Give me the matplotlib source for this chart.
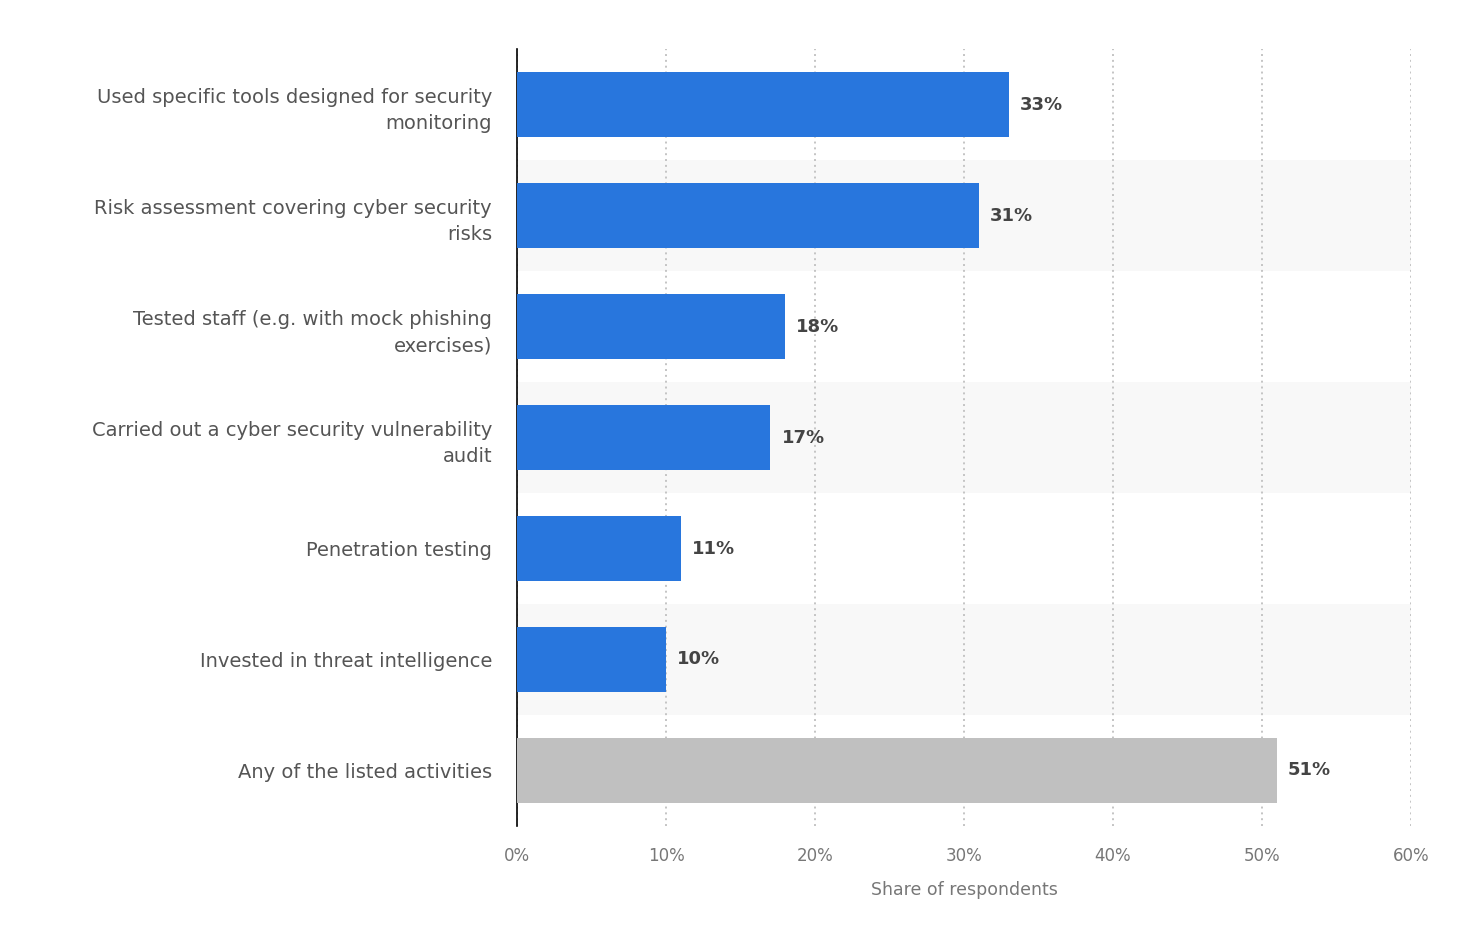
import matplotlib.pyplot as plt
from matplotlib.ticker import FuncFormatter

# Data
categories = [
    'Used specific tools designed for security\nmonitoring',
    'Risk assessment covering cyber security\nrisks',
    'Tested staff (e.g. with mock phishing\nexercises)',
    'Carried out a cyber security vulnerability\naudit',
    'Penetration testing',
    'Invested in threat intelligence',
    'Any of the listed activities',
]
values = [33, 31, 18, 17, 11, 10, 51]
bar_colors = ['#2876dd'] * 6 + ['#c0c0c0']

plt.rcParams['font.family'] = ['DejaVu Sans']

fig = plt.figure(figsize=(14.58, 9.27), dpi=100)
ax = fig.add_axes([0.3546, 0.109, 0.6132, 0.838])

y = list(range(len(categories)))

# alternating shaded bands
for i in y:
    if i % 2 == 1:
        ax.axhspan(i - 0.5, i + 0.5, color='#f8f8f8', zorder=0, lw=0)

ax.barh(y, values, height=0.58, color=bar_colors, zorder=3)

for i, v in zip(y, values):
    ax.text(v + 0.75, i, f'{v}%', va='center', ha='left', fontsize=13,
            fontweight='bold', color='#444444', zorder=4)

ax.set_xlim(0, 60)
ax.set_ylim(len(categories) - 0.5, -0.5)
ax.set_xticks(range(0, 61, 10))
ax.xaxis.set_major_formatter(FuncFormatter(lambda x, _: f'{int(x)}%'))
ax.set_yticks(y)
ax.set_yticklabels(categories, fontsize=14, color='#555555', linespacing=1.5)

ax.grid(axis='x', linestyle=(0, (1, 2)), color='#c4c4c4', lw=1.4, zorder=1)
ax.set_axisbelow(True)

for s in ['top', 'right', 'bottom']:
    ax.spines[s].set_visible(False)
ax.spines['left'].set_color('#000000')
ax.spines['left'].set_linewidth(1.2)

ax.tick_params(axis='y', length=0, pad=18)
ax.tick_params(axis='x', length=0, pad=15, labelsize=12, labelcolor='#777777')
ax.set_xlabel('Share of respondents', fontsize=12.5, color='#777777', labelpad=12)

fig.savefig('out.png', dpi=100, facecolor='white')
